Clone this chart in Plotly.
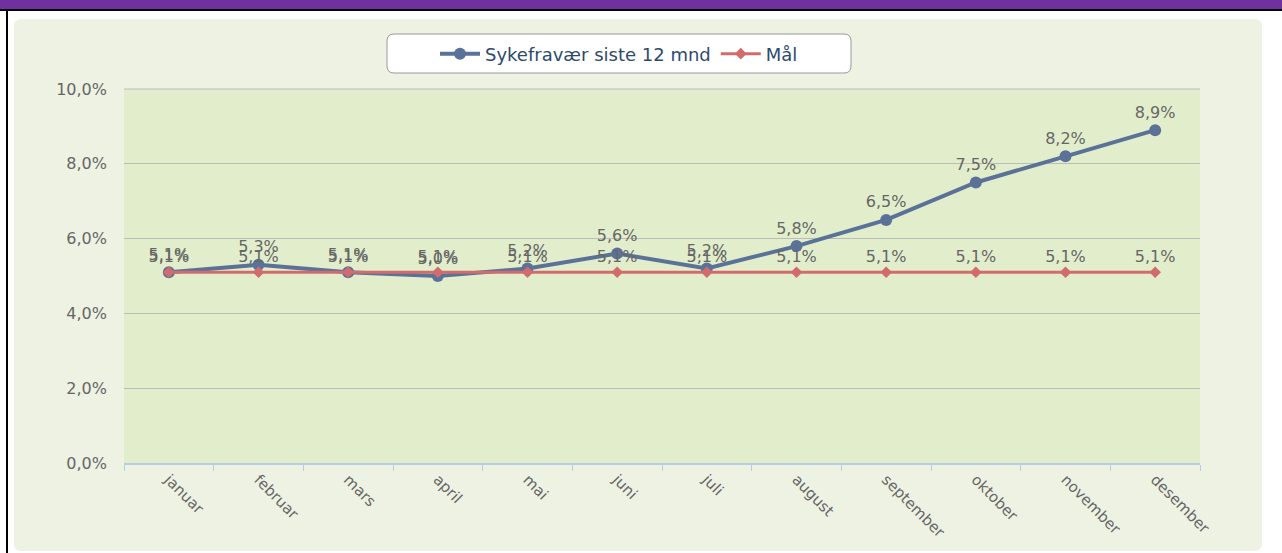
import plotly.graph_objects as go

months = ["januar", "februar", "mars", "april", "mai", "juni", "juli",
          "august", "september", "oktober", "november", "desember"]
sykefravaer = [5.1, 5.3, 5.1, 5.0, 5.2, 5.6, 5.2, 5.8, 6.5, 7.5, 8.2, 8.9]
maal = [5.1] * 12
y_ticks = [0, 2, 4, 6, 8, 10]
y_tick_labels = ["0,0%", "2,0%", "4,0%", "6,0%", "8,0%", "10,0%"]

W, H = 1282, 553
L, R, T, B = 124, 1200, 89, 463


def px(x):
    return (x - L) / (R - L)


def py(y):
    return (B - y) / (B - T)


def fmt(v):
    return f"{v:.1f}".replace(".", ",") + "%"


def rounded(x0, y0, x1, y1, r):
    return (f"M {px(x0 + r)} {py(y0)} L {px(x1 - r)} {py(y0)} "
            f"Q {px(x1)} {py(y0)} {px(x1)} {py(y0 + r)} "
            f"L {px(x1)} {py(y1 - r)} Q {px(x1)} {py(y1)} {px(x1 - r)} {py(y1)} "
            f"L {px(x0 + r)} {py(y1)} Q {px(x0)} {py(y1)} {px(x0)} {py(y1 - r)} "
            f"L {px(x0)} {py(y0 + r)} Q {px(x0)} {py(y0)} {px(x0 + r)} {py(y0)} Z")


FONT = "DejaVu Sans"

fig = go.Figure()
fig.add_trace(go.Scatter(
    x=months, y=sykefravaer, mode="lines+markers+text",
    name="Sykefravær siste 12 mnd",
    line=dict(color="#5B7298", width=4),
    marker=dict(color="#5B7298", size=12, symbol="circle"),
    text=[fmt(v) for v in sykefravaer], textposition="top center",
    textfont=dict(family=FONT, size=16, color="#666666"),
    cliponaxis=False,
))
fig.add_trace(go.Scatter(
    x=months, y=maal, mode="lines+markers+text",
    name="Mål",
    line=dict(color="#D26C6C", width=3),
    marker=dict(color="#D26C6C", size=9, symbol="diamond"),
    text=[fmt(v) for v in maal], textposition="top center",
    textfont=dict(family=FONT, size=16, color="#666666"),
    cliponaxis=False,
))

shapes = [
    dict(type="path", xref="paper", yref="paper", path=rounded(14, 19, 1262, 551, 7),
         fillcolor="#EEF2E3", line=dict(width=0), layer="below"),
    dict(type="rect", xref="paper", yref="paper", x0=0, x1=1, y0=0, y1=1,
         fillcolor="#E2EECB", line=dict(width=0), layer="below"),
    dict(type="line", xref="paper", yref="paper", x0=0, x1=1, y0=1, y1=1,
         line=dict(color="#BBBBBB", width=1), layer="below"),
    dict(type="rect", xref="paper", yref="paper", x0=px(0), x1=px(W),
         y0=py(0), y1=py(9), fillcolor="#7030A0", line=dict(width=0), layer="below"),
    dict(type="line", xref="paper", yref="paper", x0=px(0), x1=px(W),
         y0=py(10), y1=py(10), line=dict(color="#000000", width=2), layer="below"),
    dict(type="line", xref="paper", yref="paper", x0=px(7), x1=px(7),
         y0=py(10), y1=py(H), line=dict(color="#000000", width=2), layer="below"),
    dict(type="path", xref="paper", yref="paper", path=rounded(387, 34, 851, 73, 7),
         fillcolor="#FFFFFF", line=dict(color="#9A9A9A", width=1), layer="below"),
]

fig.update_layout(
    width=W, height=H,
    margin=dict(l=L, r=W - R, t=T, b=H - B, pad=0),
    paper_bgcolor="#FFFFFF", plot_bgcolor="rgba(0,0,0,0)",
    font=dict(family=FONT, size=16, color="#666666"),
    shapes=shapes,
    showlegend=True,
    legend=dict(orientation="h", x=px(619), xanchor="center", y=py(54), yanchor="middle",
                bgcolor="rgba(0,0,0,0)", borderwidth=0,
                font=dict(family=FONT, size=18, color="#2E4A6B"),
                itemwidth=40, tracegroupgap=0),
    xaxis=dict(type="category", tickangle=45, showgrid=False, ticks="outside",
               ticklen=6, tickcolor="#B8CCE4", showline=True, linecolor="#B8CCE4",
               linewidth=2, tickson="boundaries", range=[-0.5, 11.5],
               tickfont=dict(family=FONT, size=15, color="#666666")),
    yaxis=dict(range=[0, 10], tickvals=y_ticks, ticktext=y_tick_labels,
               showgrid=True, gridcolor="#BBBBBB", gridwidth=1, zeroline=False,
               ticks="", ticklabelstandoff=16,
               tickfont=dict(family=FONT, size=16, color="#666666")),
)

fig.write_html("out.html", config={"displayModeBar": False},
               post_script="document.body.style.margin='0';")
